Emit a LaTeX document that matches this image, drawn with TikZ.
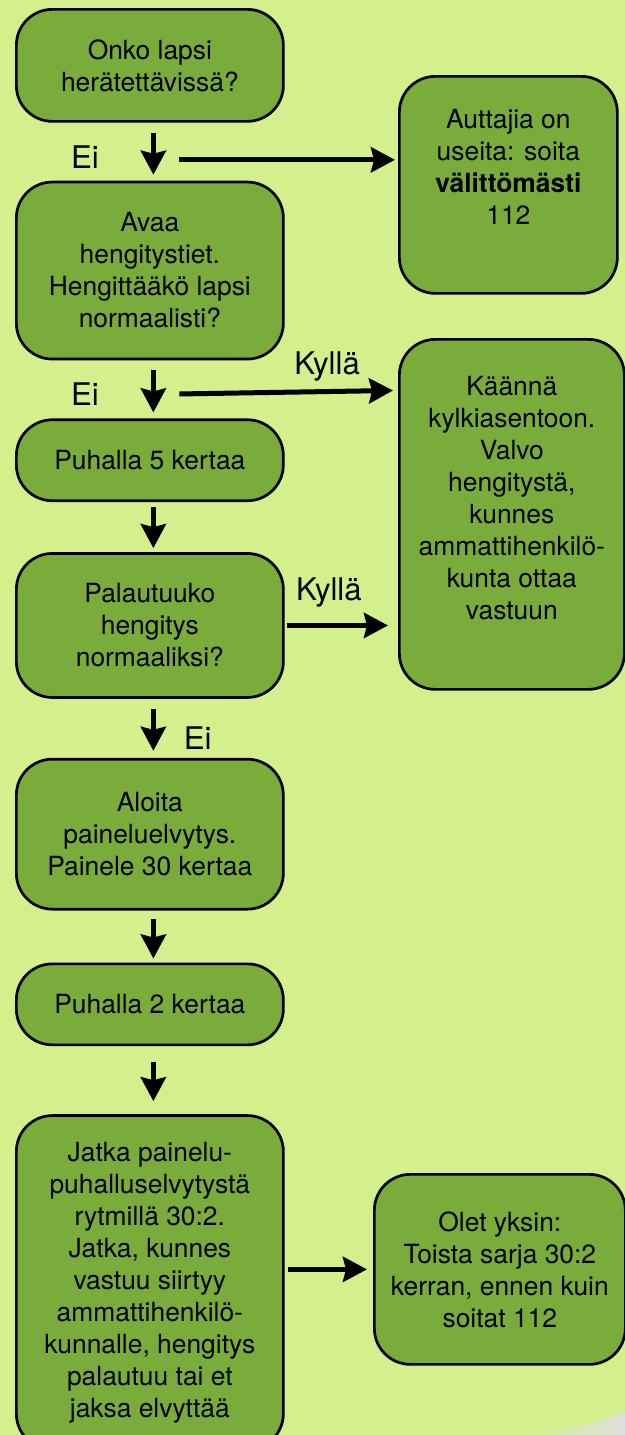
\documentclass[tikz,border=0pt]{standalone}
\usepackage{fontspec}
\setmainfont{TeX Gyre Heros}
\usepackage{tikz}
\usetikzlibrary{arrows.meta,positioning}

\definecolor{bggreen}{RGB}{211,240,140}
\definecolor{boxgreen}{RGB}{121,172,58}

\begin{document}
\begin{tikzpicture}[>={Stealth[length=12pt,width=12.5pt,inset=1.5pt]},
  every node/.style={font=\fontsize{13.2}{16}\selectfont},
  stepbox/.style={draw,line width=1.35pt,rounded corners=18pt,fill=boxgreen,align=center,minimum width=133.5pt,inner sep=2pt},
  answer/.style={font=\fontsize{15.6}{18}\selectfont,inner sep=2pt},
  arr/.style={->,line width=2.5pt,shorten <=5pt,shorten >=3pt}]
\useasboundingbox (0,0) rectangle (312.5pt,-717.5pt);
\fill[bggreen] (0,0) rectangle (312.5pt,-717.5pt);
\shade[left color=bggreen,right color=gray!25] (262pt,-717.5pt) .. controls (284pt,-714pt) and (300pt,-711pt) .. (312.5pt,-706pt) -- (312.5pt,-717.5pt) -- cycle;

% left column
\node[stepbox,minimum height=56pt,anchor=north west] (wake) at (7.5pt,-4pt) {Onko lapsi\\herätettävissä?};
\node[stepbox,minimum height=88.5pt,below=29pt of wake] (airway) {Avaa\\hengitystiet.\\Hengittääkö lapsi\\normaalisti?};
\node[stepbox,minimum height=40.5pt,below=29pt of airway] (blow5) {Puhalla 5 kertaa};
\node[stepbox,minimum height=72pt,below=25pt of blow5] (breath) {Palautuuko\\hengitys\\normaaliksi?};
\node[stepbox,minimum height=75pt,below=29.5pt of breath] (press) {Aloita\\paineluelvytys.\\Painele 30 kertaa};
\node[stepbox,minimum height=40.5pt,below=26pt of press] (blow2) {Puhalla 2 kertaa};
\node[stepbox,minimum height=167pt,below=34pt of blow2] (cycle) {Jatka painelu-\\puhalluselvytystä\\rytmillä 30:2.\\Jatka, kunnes\\vastuu siirtyy\\ammattihenkilö-\\kunnalle, hengitys\\palautuu tai et\\jaksa elvyttää};

% right column
\node[stepbox,minimum width=109pt,minimum height=108.5pt,anchor=north west] (call) at (199pt,-37.5pt) {};
\node[align=center] (callt) at ([yshift=8.75pt]call.center) {Auttajia on\\useita: soita\\\textbf{välittömästi}\\112};
\node[stepbox,minimum width=112.5pt,minimum height=175pt,anchor=north west] (side) at (199pt,-169pt) {};
\node[align=center] (sidet) at ([yshift=8.25pt]side.center) {Käännä\\kylkiasentoon.\\Valvo\\hengitystä,\\kunnes\\ammattihenkilö-\\kunta ottaa\\vastuun};
\node[stepbox,minimum width=125.5pt,minimum height=95pt,anchor=north west] (alone) at (186.5pt,-586.5pt) {Olet yksin:\\Toista sarja 30:2\\kerran, ennen kuin\\soitat 112};

% connectors
\draw[arr] ([xshift=1.75pt]wake.south) -- node[answer,pos=.586,left=24pt] (ei1) {Ei} coordinate[pos=.64] (k1) ([xshift=1.75pt]airway.north);
\draw[arr,shorten <=13pt,shorten >=1.5pt] (k1) -- (k1 -| call.west);
\draw[arr] ([xshift=1.75pt]airway.south) -- node[answer,pos=.586,left=24pt] (ei2) {Ei} coordinate[pos=.586] (k2) ([xshift=1.75pt]blow5.north);
\draw[arr,shorten <=13pt,shorten >=2.5pt] (k2) -- node[answer,pos=.71,above=2pt] (yes1) {Kyllä} ([yshift=2pt]k2 -| side.west);
\draw[arr,shorten <=2.5pt,shorten >=2pt] ([xshift=1.75pt]blow5.south) -- ([xshift=1.75pt]breath.north);
\draw[arr,shorten <=1pt,shorten >=5pt] (breath.east) -- node[answer,pos=.39,above=6pt] (yes2) {Kyllä} (breath.east -| side.west);
\draw[arr,shorten >=3.5pt] ([xshift=1.75pt]breath.south) -- node[answer,pos=.66,right=12pt] (ei3) {Ei} ([xshift=1.75pt]press.north);
\draw[arr,shorten <=4pt,shorten >=2pt] ([xshift=1.75pt]press.south) -- ([xshift=1.75pt]blow2.north);
\draw[arr,shorten <=8pt,shorten >=6.5pt] ([xshift=1.75pt]blow2.south) -- ([xshift=1.75pt]cycle.north);
\draw[arr,shorten <=1.5pt,shorten >=3pt] (alone.west -| cycle.east) -- (alone.west);
\end{tikzpicture}
\end{document}
